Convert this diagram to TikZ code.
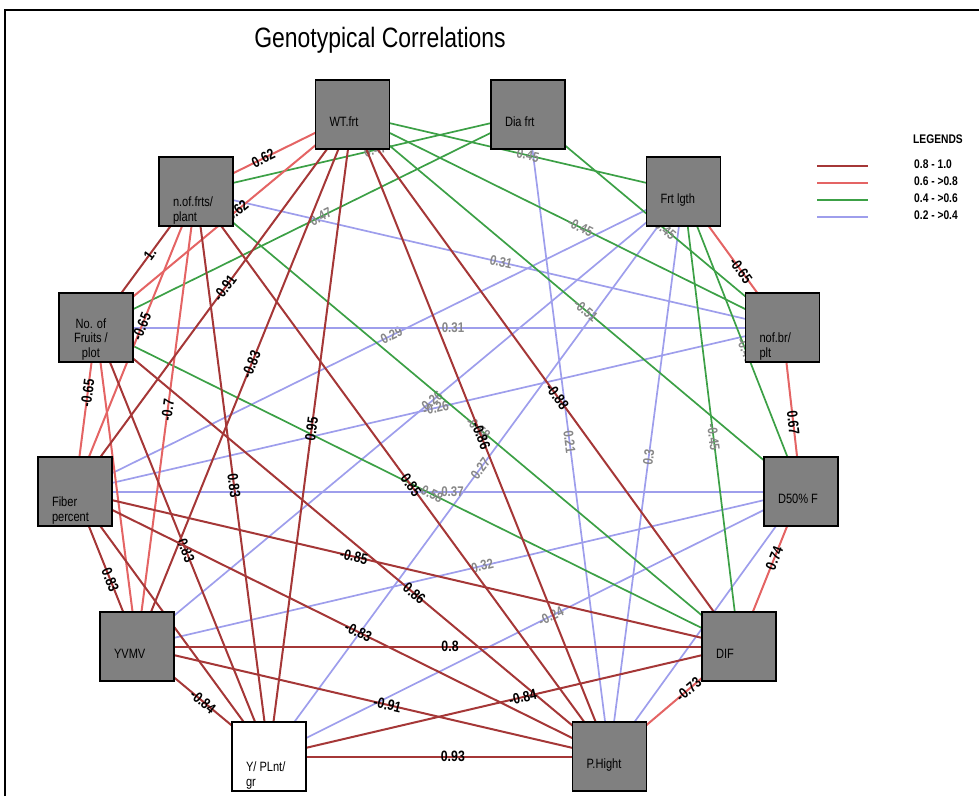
\documentclass[tikz,border=0pt]{standalone}
\usepackage{fontspec}
\setmainfont{Liberation Sans}
\newfontfamily\narrowsans[FakeStretch=0.82]{Liberation Sans}
\usetikzlibrary{backgrounds}
\definecolor{boxgray}{RGB}{128,128,128}
\definecolor{darkred}{RGB}{165,55,55}
\definecolor{lightred}{RGB}{228,100,100}
\definecolor{midgreen}{RGB}{60,160,70}
\definecolor{lavender}{RGB}{158,158,236}
\definecolor{labgray}{RGB}{135,135,135}
\newcommand{\traitone}[1]{\makebox[0pt][l]{\hspace*{-23pt}\raisebox{-12pt}[0pt][0pt]{#1}}}
\newcommand{\traittwo}[2]{\makebox[0pt][l]{\hspace*{-23pt}\raisebox{-29.5pt}[0pt][0pt]{\begin{tabular}[b]{@{}l@{}}#1\\#2\end{tabular}}}}
\tikzset{trait/.style={rectangle,draw=black,line width=1.6pt,fill=boxgray,minimum width=74pt,minimum height=69pt,inner sep=0pt,font=\narrowsans\fontsize{13.5}{14.5}\selectfont}}
\tikzset{corbold/.style={sloped,inner sep=1pt,text=black,font=\narrowsans\bfseries\fontsize{15}{15}\selectfont}}
\tikzset{corgray/.style={sloped,inner sep=1pt,text=labgray,font=\narrowsans\bfseries\fontsize{14}{14}\selectfont}}
\tikzset{r08/.style={draw=darkred,line width=2pt}}
\tikzset{r06/.style={draw=lightred,line width=2pt}}
\tikzset{r04/.style={draw=midgreen,line width=1.7pt}}
\tikzset{r02/.style={draw=lavender,line width=1.7pt}}
\tikzset{legtext/.style={anchor=base west,inner sep=0pt,font=\narrowsans\bfseries\fontsize{12.5}{12.5}\selectfont}}

\begin{document}
\begin{tikzpicture}[x=1pt,y=-1pt]
    \useasboundingbox (0,0) rectangle (979,796);
    \path[draw=black,line width=1.2pt] (5,796) -- (5,10) -- (979,10);

    \node[anchor=base,inner sep=0pt,font=\narrowsans\fontsize{28}{28}\selectfont] (title) at (380,47) {Genotypical Correlations};

    % traits round the circle
    \node[trait] (W) at (352.5,114.5) {\traitone{WT.frt}};
    \node[trait] (D) at (528,114.5) {\traitone{Dia frt}};
    \node[trait] (N) at (196,191.5) {\traittwo{n.of.frts/}{plant}};
    \node[trait] (F) at (683.5,191.5) {\traitone{Frt lgth}};
    \node[trait] (P) at (96,327.5) {\makebox[0pt][l]{\hspace*{-22pt}\raisebox{-29.5pt}[0pt][0pt]{\begin{tabular}[b]{@{}c@{}}No. of\\Fruits /\\plot\end{tabular}}}};
    \node[trait] (B) at (782.5,327.5) {\traittwo{nof.br/}{plt}};
    \node[trait] (FP) at (75,491.5) {\traittwo{Fiber}{percent}};
    \node[trait] (D50) at (801,491.5) {\traitone{D50\% F}};
    \node[trait] (Y) at (137,646.5) {\traitone{YVMV}};
    \node[trait] (DIF) at (739,646.5) {\traitone{DIF}};
    \node[trait,fill=white] (YP) at (269,756.5) {\traittwo{Y/ PLnt/}{gr}};
    \node[trait] (H) at (609.5,756.5) {\traitone{P.Hight}};

    % legend
    \node[legtext] (leg) at (913,143) {LEGENDS};
    \node[legtext] (k1) at (914,168) {0.8 - 1.0};
    \node[legtext] (k2) at (914,185) {0.6 - >0.8};
    \node[legtext] (k3) at (914,202) {0.4 - >0.6};
    \node[legtext] (k4) at (914,219) {0.2 - >0.4};
    \path[r08,line width=2.4pt] ([xshift=-97pt,yshift=-2pt]k1.west) -- ([xshift=-46pt,yshift=-2pt]k1.west);
    \path[r06,line width=2.4pt] ([xshift=-97pt,yshift=-2pt]k2.west) -- ([xshift=-46pt,yshift=-2pt]k2.west);
    \path[r04,line width=2.2pt] ([xshift=-97pt,yshift=-2pt]k3.west) -- ([xshift=-46pt,yshift=-2pt]k3.west);
    \path[r02,line width=1.9pt] ([xshift=-97pt,yshift=-2pt]k4.west) -- ([xshift=-46pt,yshift=-2pt]k4.west);

    \begin{pgfonlayer}{background}
        % 0.2 - 0.4
        \path[r02] (D.center) -- node[corgray,pos=.51]{0.21} (H.center);
        \path[r02] (F.center) -- node[corgray,pos=.47]{0.3} (H.center);
        \path[r02] (F.center) -- node[corgray,pos=.48]{0.29} (FP.center);
        \path[r02] (F.center) -- node[corgray,pos=.46]{0.26} (Y.center);
        \path[r02] (F.center) -- node[corgray,pos=.49]{0.27} (YP.center);
        \path[r02] (N.center) -- node[corgray,pos=.52]{0.31} (B.center);
        \path[r02,line width=2pt] (P.center) -- node[corgray,pos=.52]{0.31} (B.center);
        \path[r02] (FP.center) -- node[corgray,pos=.51]{-0.26} (B.center);
        \path[r02,line width=2pt] (FP.center) -- node[corgray,pos=.52]{0.37} (D50.center);
        \path[r02] (Y.center) -- node[corgray,pos=.52]{0.32} (D50.center);
        \path[r02] (YP.center) -- node[corgray,pos=.53]{-0.24} (D50.center);
        \path[r02] (D50.center) -- (H.center);
        % 0.4 - 0.6
        \path[r04] (W.center) -- node[corgray,pos=.53]{0.45} (F.center);
        \path[r04] (W.center) -- node[corgray,pos=.53]{-0.45} (B.center);
        \path[r04] (N.center) -- node[corgray,pos=.54]{0.47} (D.center);
        \path[r04] (D.center) -- node[corgray,pos=.54]{0.45} (B.center);
        \path[r04] (D.center) -- node[corgray,pos=.48]{0.47} (P.center);
        \path[r04] (F.center) -- node[corgray,pos=.53]{-0.46} (D50.center);
        \path[r04] (F.center) -- node[corgray,pos=.54]{-0.45} (DIF.center);
        \path[r04] (W.center) -- node[corgray,pos=.52]{-0.51} (D50.center);
        \path[r04] (P.center) -- node[corgray,pos=.52]{-0.58} (DIF.center);
        \path[r04] (N.center) -- node[corgray,pos=.52]{-0.58} (DIF.center);
        % 0.6 - 0.8
        \path[r06] (W.center) -- node[corbold,pos=.57]{0.62} (N.center);
        \path[r06] (W.center) -- node[corbold,pos=.45]{0.62} (P.center);
        \path[r06] (F.center) -- node[corbold,pos=.58]{-0.65} (B.center);
        \path[r06] (B.center) -- node[corbold,pos=.58]{0.67} (D50.center);
        \path[r06] (D50.center) -- node[corbold,pos=.43]{0.74} (DIF.center);
        \path[r06] (DIF.center) -- node[corbold,pos=.39]{-0.73} (H.center);
        \path[r06] (P.center) -- node[corbold,pos=.40]{-0.65} (FP.center);
        \path[r06] (N.center) -- node[corbold,pos=.45]{-0.65} (FP.center);
        \path[r06] (N.center) -- node[corbold,pos=.48]{-0.7} (Y.center);
        \path[r06] (P.center) -- (Y.center);
        % 0.8 - 1.0
        \path[r08] (N.center) -- node[corbold,pos=.46]{1.} (P.center);
        \path[r08] (YP.center) -- node[corbold,pos=.54]{0.93} (H.center);
        \path[r08] (Y.center) -- node[corbold,pos=.50]{-0.84} (YP.center);
        \path[r08] (FP.center) -- node[corbold,pos=.57]{0.83} (Y.center);
        \path[r08] (W.center) -- node[corbold,pos=.49]{0.95} (YP.center);
        \path[r08] (W.center) -- node[corbold,pos=.50]{-0.86} (H.center);
        \path[r08] (W.center) -- node[corbold,pos=.53]{-0.88} (DIF.center);
        \path[r08] (W.center) -- node[corbold,pos=.46]{-0.91} (FP.center);
        \path[r08] (W.center) -- node[corbold,pos=.47]{-0.83} (Y.center);
        \path[r08] (N.center) -- node[corbold,pos=.52]{0.83} (YP.center);
        \path[r08] (P.center) -- node[corbold,pos=.52]{0.83} (YP.center);
        \path[r08] (N.center) -- node[corbold,pos=.52]{0.85} (H.center);
        \path[r08] (P.center) -- node[corbold,pos=.62]{0.86} (H.center);
        \path[r08] (FP.center) -- node[corbold,pos=.42]{-0.85} (DIF.center);
        \path[r08] (FP.center) -- node[corbold,pos=.53]{-0.83} (H.center);
        \path[r08] (Y.center) -- node[corbold,pos=.52]{0.8} (DIF.center);
        \path[r08] (Y.center) -- node[corbold,pos=.53]{-0.91} (H.center);
        \path[r08] (YP.center) -- node[corbold,pos=.54]{-0.84} (DIF.center);
        \path[r08] (FP.center) -- (YP.center);
    \end{pgfonlayer}
\end{tikzpicture}
\end{document}
